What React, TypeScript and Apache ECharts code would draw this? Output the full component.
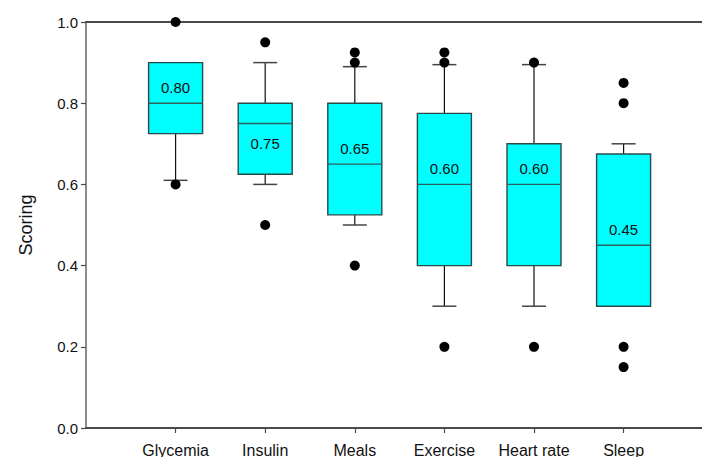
import React, { useEffect, useRef } from "react";
import * as echarts from "echarts";

// Scoring distribution per self-management domain
const categories = ["Glycemia", "Insulin", "Meals", "Exercise", "Heart rate", "Sleep"];
const whiskerLow = [0.61, 0.6, 0.5, 0.3, 0.3, 0.3];
const q1 = [0.725, 0.625, 0.525, 0.4, 0.4, 0.3];
const median = [0.8, 0.75, 0.65, 0.6, 0.6, 0.45];
const q3 = [0.9, 0.8, 0.8, 0.775, 0.7, 0.675];
const whiskerHigh = [0.9, 0.9, 0.89, 0.895, 0.895, 0.7];
const outliers = [
  [1.0, 0.6],
  [0.95, 0.5],
  [0.925, 0.9, 0.4],
  [0.925, 0.9, 0.2],
  [0.9, 0.2],
  [0.85, 0.8, 0.2, 0.15],
];
const yTicks = [0, 0.2, 0.4, 0.6, 0.8, 1.0];

const FONT = "'Liberation Sans', Arial, sans-serif";
const AXIS_COLOR = "#4a4a4a";

export default function App() {
  const ref = useRef<HTMLDivElement>(null);

  useEffect(() => {
    if (!ref.current) return;
    const chart = echarts.init(ref.current, undefined, { renderer: "svg" });

    const positions = categories.map((_, i) => i + 1);
    const boxData = categories.map((_, i) => [
      positions[i],
      whiskerLow[i],
      q1[i],
      median[i],
      q3[i],
      whiskerHigh[i],
    ]);
    const outlierData: number[][] = [];
    outliers.forEach((vals, i) => vals.forEach((v) => outlierData.push([positions[i], v])));

    const renderBox = (params: any, api: any) => {
      const x = api.value(0);
      const lo = api.value(1);
      const b1 = api.value(2);
      const med = api.value(3);
      const b3 = api.value(4);
      const hi = api.value(5);
      const pLo = api.coord([x, lo]);
      const p1 = api.coord([x, b1]);
      const pMed = api.coord([x, med]);
      const p3 = api.coord([x, b3]);
      const pHi = api.coord([x, hi]);
      const cx = p1[0];
      const halfW = 27;
      const capHalf = 12;
      const children: any[] = [];
      const whiskerStyle = { stroke: "#111", lineWidth: 1.2 };
      const capStyle = { stroke: "#444", lineWidth: 1.5 };

      if (hi > b3) {
        children.push({ type: "line", shape: { x1: cx, y1: p3[1], x2: cx, y2: pHi[1] }, style: whiskerStyle });
        children.push({ type: "line", shape: { x1: cx - capHalf, y1: pHi[1], x2: cx + capHalf, y2: pHi[1] }, style: capStyle });
      }
      if (lo < b1) {
        children.push({ type: "line", shape: { x1: cx, y1: p1[1], x2: cx, y2: pLo[1] }, style: whiskerStyle });
        children.push({ type: "line", shape: { x1: cx - capHalf, y1: pLo[1], x2: cx + capHalf, y2: pLo[1] }, style: capStyle });
      }
      children.push({
        type: "rect",
        shape: { x: cx - halfW, y: p3[1], width: halfW * 2, height: p1[1] - p3[1] },
        style: { fill: "#00FFFF", stroke: "#2a4a4a", lineWidth: 1.4 },
      });
      children.push({
        type: "line",
        shape: { x1: cx - halfW, y1: pMed[1], x2: cx + halfW, y2: pMed[1] },
        style: { stroke: "#2f5f5f", lineWidth: 1.4 },
      });
      // value label sits in the larger half of the box
      const roomAbove = pMed[1] - p3[1];
      const ly = roomAbove >= 30 ? pMed[1] - 16 : pMed[1] + 20;
      children.push({
        type: "text",
        style: {
          text: med.toFixed(2),
          x: cx,
          y: ly,
          align: "center",
          verticalAlign: "middle",
          fill: "#111",
          font: `15px ${FONT}`,
        },
      });
      return { type: "group", children };
    };

    chart.setOption({
      animation: false,
      backgroundColor: "#fff",
      grid: { left: 86, right: 0, top: 22, bottom: 29, containLabel: false, outerBoundsMode: "none" },
      xAxis: [
        {
          type: "value",
          min: 0,
          max: 6.875,
          interval: 1,
          position: "bottom",
          axisLine: { show: true, lineStyle: { color: AXIS_COLOR, width: 1.8 } },
          axisTick: { show: true, customValues: positions, length: 5, lineStyle: { color: AXIS_COLOR, width: 1.2 } },
          axisLabel: {
            customValues: positions,
            formatter: (v: number) => categories[Math.round(v) - 1] ?? "",
            fontSize: 16,
            fontFamily: FONT,
            color: "#111",
            margin: 14,
          },
          splitLine: { show: false },
        },
        {
          type: "value",
          min: 0,
          max: 6.875,
          position: "top",
          axisLine: { show: true, lineStyle: { color: AXIS_COLOR, width: 1.8 } },
          axisTick: { show: false },
          axisLabel: { show: false },
          splitLine: { show: false },
        },
      ],
      yAxis: {
        type: "value",
        min: yTicks[0],
        max: yTicks[yTicks.length - 1],
        interval: 0.2,
        name: "Scoring",
        nameLocation: "middle",
        nameRotate: 90,
        nameGap: 51,
        nameTextStyle: { fontSize: 18, fontFamily: FONT, color: "#111" },
        axisLine: { show: true, lineStyle: { color: "#666", width: 1.5 } },
        axisTick: { show: true, inside: false, length: 5, lineStyle: { color: AXIS_COLOR, width: 1.2 } },
        axisLabel: {
          formatter: (v: number) => v.toFixed(1),
          fontSize: 15,
          fontFamily: FONT,
          color: "#111",
          margin: 8,
        },
        splitLine: { show: false },
      },
      series: [
        {
          type: "custom",
          xAxisIndex: 0,
          renderItem: renderBox,
          encode: { x: 0, y: [1, 2, 3, 4, 5] },
          data: boxData,
          clip: false,
          z: 2,
        },
        {
          type: "scatter",
          xAxisIndex: 0,
          data: outlierData,
          symbol: "circle",
          symbolSize: 10,
          itemStyle: { color: "#000", opacity: 1 },
          clip: false,
          z: 5,
        },
      ],
    });

    return () => chart.dispose();
  }, []);

  return (
    <div
      ref={ref}
      style={{ position: "fixed", left: 0, top: 0, width: 702, height: 457, background: "#fff" }}
    />
  );
}
